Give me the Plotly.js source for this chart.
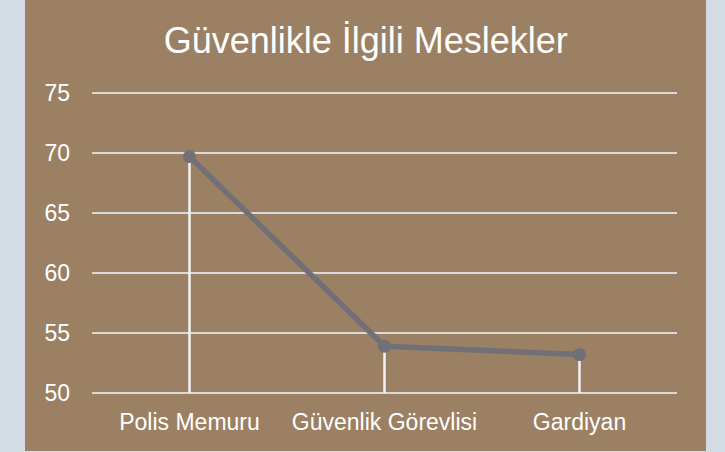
<!DOCTYPE html>
<html>
<head>
<meta charset="utf-8">
<script src="https://cdn.plot.ly/plotly-3.0.1.min.js"></script>
<style>html,body{margin:0;padding:0;background:#d3dce4;}#chart{width:725px;height:452px;}</style>
</head>
<body>
<div id="chart"></div>
<script>
const categories = ["Polis Memuru", "Güvenlik Görevlisi", "Gardiyan"];
const values = [69.7, 53.9, 53.2];
const yTicks = [50, 55, 60, 65, 70, 75];
const titleText = "Güvenlikle İlgili Meslekler";
const axisBase = 50;

const dropX = [], dropY = [];
categories.forEach((c, i) => { dropX.push(c, c, null); dropY.push(values[i], axisBase, null); });

const traces = [
  { x: dropX, y: dropY, type: "scatter", mode: "lines", line: { color: "#f2f2f2", width: 2.5 }, hoverinfo: "skip", showlegend: false },
  { x: categories, y: values, type: "scatter", mode: "lines+markers",
    line: { color: "#707076", width: 5.5 }, marker: { color: "#707076", size: 13 }, showlegend: false }
];

const layout = {
  width: 725, height: 452,
  paper_bgcolor: "#d3dce4", plot_bgcolor: "rgba(0,0,0,0)",
  margin: { l: 92, r: 48, t: 90, b: 56 },
  font: { family: "Liberation Sans Narrow, Liberation Sans, sans-serif", color: "#ffffff", size: 23 },
  title: { text: titleText, x: 0.468, xanchor: "center", xref: "paper", y: 0.91, yref: "container", yanchor: "middle",
    font: { family: "Liberation Sans, sans-serif", size: 36, color: "#ffffff" } },
  shapes: [{ type: "rect", xref: "paper", yref: "paper", x0: -0.1145, x1: 1.0496, y0: -0.18, y1: 1.31,
    fillcolor: "#9b8063", line: { width: 0 }, layer: "below" }],
  xaxis: { type: "category", range: [-0.5, 2.5], showgrid: false, zeroline: false, showline: false,
    ticks: "", ticklabelstandoff: 10, tickfont: { size: 23, color: "#ffffff" }, fixedrange: true },
  yaxis: { range: [49.75, 75.25], tickvals: yTicks, showgrid: true, gridcolor: "#d9d9d9", gridwidth: 2,
    zeroline: false, showline: false, ticks: "", ticklabelstandoff: 21,
    tickfont: { family: "Liberation Sans, sans-serif", size: 23, color: "#ffffff" }, fixedrange: true }
};

Plotly.newPlot("chart", traces, layout, { displayModeBar: false, staticPlot: true });
</script>
</body>
</html>
